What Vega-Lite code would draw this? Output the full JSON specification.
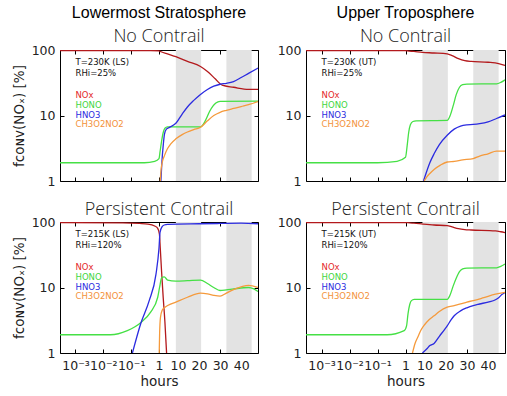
{
  "$schema": "https://vega.github.io/schema/vega-lite/v6.json",
  "padding": {"left": 11, "top": 4, "right": 4, "bottom": 4},
  "background": "white",
  "config": {
    "view": {"stroke": "#000", "strokeWidth": 1},
    "title": {"font": "Liberation Sans", "fontSize": 16, "fontWeight": "normal", "color": "#000", "anchor": "middle", "offset": -2,
              "subtitleFont": "Open Sans", "subtitleFontWeight": 300, "subtitleFontSize": 18, "subtitleColor": "#222", "subtitlePadding": 7},
    "axis": {"labelFont": "DejaVu Sans", "labelFontSize": 12.5, "labelColor": "#222", "titleFont": "DejaVu Sans", "titleFontSize": 13.5,
             "titleFontWeight": "normal", "titleColor": "#222", "grid": false, "domain": false, "tickColor": "#000", "tickSize": -4}
  },
  "datasets": {
    "series": [
      {"p":"LS_no","s":"NOx","h":0.000278,"v":98},{"p":"LS_no","s":"NOx","h":0.5,"v":98},{"p":"LS_no","s":"NOx","h":1,"v":97},{"p":"LS_no","s":"NOx","h":2,"v":94},{"p":"LS_no","s":"NOx","h":5,"v":87},{"p":"LS_no","s":"NOx","h":9,"v":79},{"p":"LS_no","s":"NOx","h":14.5,"v":67},{"p":"LS_no","s":"NOx","h":20.7,"v":56},{"p":"LS_no","s":"NOx","h":24,"v":47},{"p":"LS_no","s":"NOx","h":27.8,"v":36},{"p":"LS_no","s":"NOx","h":31,"v":29},{"p":"LS_no","s":"NOx","h":36.4,"v":27},{"p":"LS_no","s":"NOx","h":43.5,"v":25},{"p":"LS_no","s":"NOx","h":48,"v":25},
      {"p":"LS_no","s":"HONO","h":0.000278,"v":1.9},{"p":"LS_no","s":"HONO","h":0.3,"v":1.9},{"p":"LS_no","s":"HONO","h":0.7,"v":2.0},{"p":"LS_no","s":"HONO","h":1,"v":2.2},{"p":"LS_no","s":"HONO","h":1.5,"v":2.8},{"p":"LS_no","s":"HONO","h":2.2,"v":4},{"p":"LS_no","s":"HONO","h":3,"v":5.5},{"p":"LS_no","s":"HONO","h":3.8,"v":6.4},{"p":"LS_no","s":"HONO","h":5,"v":6.7},{"p":"LS_no","s":"HONO","h":20.7,"v":6.7},{"p":"LS_no","s":"HONO","h":22,"v":7.3},{"p":"LS_no","s":"HONO","h":23.5,"v":9},{"p":"LS_no","s":"HONO","h":25,"v":11.5},{"p":"LS_no","s":"HONO","h":26.5,"v":13.8},{"p":"LS_no","s":"HONO","h":28,"v":15.5},{"p":"LS_no","s":"HONO","h":30,"v":16.4},{"p":"LS_no","s":"HONO","h":48,"v":16.6},
      {"p":"LS_no","s":"HNO3","h":1.9,"v":1},{"p":"LS_no","s":"HNO3","h":2.4,"v":2},{"p":"LS_no","s":"HNO3","h":3,"v":3.5},{"p":"LS_no","s":"HNO3","h":3.6,"v":5.2},{"p":"LS_no","s":"HNO3","h":4.5,"v":6.2},{"p":"LS_no","s":"HNO3","h":6,"v":6.6},{"p":"LS_no","s":"HNO3","h":9,"v":7.6},{"p":"LS_no","s":"HNO3","h":12,"v":10.5},{"p":"LS_no","s":"HNO3","h":14.5,"v":13.5},{"p":"LS_no","s":"HNO3","h":17.5,"v":17},{"p":"LS_no","s":"HNO3","h":20.7,"v":21},{"p":"LS_no","s":"HNO3","h":24,"v":25},{"p":"LS_no","s":"HNO3","h":27,"v":28},{"p":"LS_no","s":"HNO3","h":30,"v":30},{"p":"LS_no","s":"HNO3","h":33,"v":31},{"p":"LS_no","s":"HNO3","h":36.4,"v":33},{"p":"LS_no","s":"HNO3","h":40,"v":38},{"p":"LS_no","s":"HNO3","h":43.5,"v":44},{"p":"LS_no","s":"HNO3","h":48,"v":53},
      {"p":"LS_no","s":"CH3O2NO2","h":1.6,"v":1},{"p":"LS_no","s":"CH3O2NO2","h":1.9,"v":1.4},{"p":"LS_no","s":"CH3O2NO2","h":2.5,"v":1.9},{"p":"LS_no","s":"CH3O2NO2","h":3.5,"v":2.4},{"p":"LS_no","s":"CH3O2NO2","h":5,"v":3.1},{"p":"LS_no","s":"CH3O2NO2","h":6.6,"v":3.7},{"p":"LS_no","s":"CH3O2NO2","h":9,"v":4.4},{"p":"LS_no","s":"CH3O2NO2","h":12,"v":5.1},{"p":"LS_no","s":"CH3O2NO2","h":14.5,"v":5.6},{"p":"LS_no","s":"CH3O2NO2","h":17.5,"v":6.1},{"p":"LS_no","s":"CH3O2NO2","h":20.7,"v":6.6},{"p":"LS_no","s":"CH3O2NO2","h":24,"v":8.3},{"p":"LS_no","s":"CH3O2NO2","h":27,"v":10},{"p":"LS_no","s":"CH3O2NO2","h":30,"v":11.2},{"p":"LS_no","s":"CH3O2NO2","h":33,"v":12},{"p":"LS_no","s":"CH3O2NO2","h":36.4,"v":12.8},{"p":"LS_no","s":"CH3O2NO2","h":40,"v":13.7},{"p":"LS_no","s":"CH3O2NO2","h":43.5,"v":14.6},{"p":"LS_no","s":"CH3O2NO2","h":48,"v":16.3},

      {"p":"UT_no","s":"NOx","h":0.000278,"v":98},{"p":"UT_no","s":"NOx","h":1,"v":98},{"p":"UT_no","s":"NOx","h":2,"v":97},{"p":"UT_no","s":"NOx","h":5,"v":95},{"p":"UT_no","s":"NOx","h":9,"v":92},{"p":"UT_no","s":"NOx","h":14.5,"v":90},{"p":"UT_no","s":"NOx","h":20.7,"v":87},{"p":"UT_no","s":"NOx","h":23,"v":82},{"p":"UT_no","s":"NOx","h":26,"v":74},{"p":"UT_no","s":"NOx","h":29,"v":69},{"p":"UT_no","s":"NOx","h":32,"v":67},{"p":"UT_no","s":"NOx","h":40,"v":65},{"p":"UT_no","s":"NOx","h":45,"v":62},{"p":"UT_no","s":"NOx","h":48,"v":58},
      {"p":"UT_no","s":"HONO","h":0.000278,"v":1.9},{"p":"UT_no","s":"HONO","h":0.1,"v":1.9},{"p":"UT_no","s":"HONO","h":0.5,"v":2.0},{"p":"UT_no","s":"HONO","h":1,"v":2.3},{"p":"UT_no","s":"HONO","h":1.8,"v":3.5},{"p":"UT_no","s":"HONO","h":2.5,"v":5.5},{"p":"UT_no","s":"HONO","h":3.3,"v":7.2},{"p":"UT_no","s":"HONO","h":4.5,"v":8.1},{"p":"UT_no","s":"HONO","h":6,"v":8.3},{"p":"UT_no","s":"HONO","h":20.7,"v":8.4},{"p":"UT_no","s":"HONO","h":22,"v":9.8},{"p":"UT_no","s":"HONO","h":23.5,"v":14},{"p":"UT_no","s":"HONO","h":25,"v":21},{"p":"UT_no","s":"HONO","h":26.5,"v":27},{"p":"UT_no","s":"HONO","h":28,"v":29.5},{"p":"UT_no","s":"HONO","h":30,"v":30.2},{"p":"UT_no","s":"HONO","h":44,"v":30.5},{"p":"UT_no","s":"HONO","h":46,"v":32},{"p":"UT_no","s":"HONO","h":48,"v":35},
      {"p":"UT_no","s":"HNO3","h":9.5,"v":1},{"p":"UT_no","s":"HNO3","h":11,"v":1.4},{"p":"UT_no","s":"HNO3","h":12.5,"v":1.9},{"p":"UT_no","s":"HNO3","h":14.5,"v":2.6},{"p":"UT_no","s":"HNO3","h":17,"v":3.6},{"p":"UT_no","s":"HNO3","h":20.7,"v":5.0},{"p":"UT_no","s":"HNO3","h":24,"v":6.2},{"p":"UT_no","s":"HNO3","h":27,"v":6.9},{"p":"UT_no","s":"HNO3","h":30,"v":7.2},{"p":"UT_no","s":"HNO3","h":33,"v":7.3},{"p":"UT_no","s":"HNO3","h":36,"v":7.5},{"p":"UT_no","s":"HNO3","h":40,"v":8.0},{"p":"UT_no","s":"HNO3","h":44,"v":9.0},{"p":"UT_no","s":"HNO3","h":48,"v":10.2},
      {"p":"UT_no","s":"CH3O2NO2","h":9.8,"v":1},{"p":"UT_no","s":"CH3O2NO2","h":11,"v":1.15},{"p":"UT_no","s":"CH3O2NO2","h":12.5,"v":1.3},{"p":"UT_no","s":"CH3O2NO2","h":14.5,"v":1.5},{"p":"UT_no","s":"CH3O2NO2","h":17.5,"v":1.75},{"p":"UT_no","s":"CH3O2NO2","h":20.7,"v":1.95},{"p":"UT_no","s":"CH3O2NO2","h":24,"v":2.0},{"p":"UT_no","s":"CH3O2NO2","h":28,"v":2.1},{"p":"UT_no","s":"CH3O2NO2","h":33,"v":2.2},{"p":"UT_no","s":"CH3O2NO2","h":36,"v":2.4},{"p":"UT_no","s":"CH3O2NO2","h":40,"v":2.6},{"p":"UT_no","s":"CH3O2NO2","h":44,"v":2.85},{"p":"UT_no","s":"CH3O2NO2","h":48,"v":2.85},

      {"p":"LS_pc","s":"NOx","h":0.000278,"v":98},{"p":"LS_pc","s":"NOx","h":0.05,"v":97},{"p":"LS_pc","s":"NOx","h":0.2,"v":95},{"p":"LS_pc","s":"NOx","h":0.4,"v":93},{"p":"LS_pc","s":"NOx","h":0.7,"v":87},{"p":"LS_pc","s":"NOx","h":0.9,"v":80},{"p":"LS_pc","s":"NOx","h":1.2,"v":65},{"p":"LS_pc","s":"NOx","h":1.6,"v":40},{"p":"LS_pc","s":"NOx","h":2.2,"v":18},{"p":"LS_pc","s":"NOx","h":3,"v":7},{"p":"LS_pc","s":"NOx","h":3.8,"v":3},{"p":"LS_pc","s":"NOx","h":4.6,"v":1},
      {"p":"LS_pc","s":"HONO","h":0.000278,"v":1.9},{"p":"LS_pc","s":"HONO","h":0.018,"v":1.9},{"p":"LS_pc","s":"HONO","h":0.073,"v":2.2},{"p":"LS_pc","s":"HONO","h":0.22,"v":2.9},{"p":"LS_pc","s":"HONO","h":0.5,"v":4.2},{"p":"LS_pc","s":"HONO","h":0.9,"v":7.1},{"p":"LS_pc","s":"HONO","h":1.5,"v":11},{"p":"LS_pc","s":"HONO","h":2.2,"v":14},{"p":"LS_pc","s":"HONO","h":3.5,"v":14.5},{"p":"LS_pc","s":"HONO","h":5.1,"v":13},{"p":"LS_pc","s":"HONO","h":9,"v":12.5},{"p":"LS_pc","s":"HONO","h":14.5,"v":12.7},{"p":"LS_pc","s":"HONO","h":20.7,"v":13},{"p":"LS_pc","s":"HONO","h":24,"v":11.5},{"p":"LS_pc","s":"HONO","h":27,"v":10},{"p":"LS_pc","s":"HONO","h":30,"v":9.0},{"p":"LS_pc","s":"HONO","h":33,"v":9.2},{"p":"LS_pc","s":"HONO","h":36.4,"v":9.5},{"p":"LS_pc","s":"HONO","h":43.5,"v":10},{"p":"LS_pc","s":"HONO","h":46,"v":9.5},{"p":"LS_pc","s":"HONO","h":48,"v":8.7},
      {"p":"LS_pc","s":"HNO3","h":0.111,"v":1},{"p":"LS_pc","s":"HNO3","h":0.22,"v":2.8},{"p":"LS_pc","s":"HNO3","h":0.445,"v":6.3},{"p":"LS_pc","s":"HNO3","h":0.78,"v":16},{"p":"LS_pc","s":"HNO3","h":1.0,"v":40},{"p":"LS_pc","s":"HNO3","h":1.5,"v":70},{"p":"LS_pc","s":"HNO3","h":2.5,"v":85},{"p":"LS_pc","s":"HNO3","h":3.5,"v":90},{"p":"LS_pc","s":"HNO3","h":5.1,"v":92},{"p":"LS_pc","s":"HNO3","h":20,"v":94},{"p":"LS_pc","s":"HNO3","h":30,"v":95},{"p":"LS_pc","s":"HNO3","h":40,"v":96},{"p":"LS_pc","s":"HNO3","h":48,"v":94},
      {"p":"LS_pc","s":"CH3O2NO2","h":1.1,"v":1},{"p":"LS_pc","s":"CH3O2NO2","h":1.3,"v":2},{"p":"LS_pc","s":"CH3O2NO2","h":1.7,"v":3.5},{"p":"LS_pc","s":"CH3O2NO2","h":2.5,"v":4.5},{"p":"LS_pc","s":"CH3O2NO2","h":3.5,"v":4.9},{"p":"LS_pc","s":"CH3O2NO2","h":5.1,"v":5.3},{"p":"LS_pc","s":"CH3O2NO2","h":9,"v":6},{"p":"LS_pc","s":"CH3O2NO2","h":14.5,"v":7.1},{"p":"LS_pc","s":"CH3O2NO2","h":20.7,"v":8.2},{"p":"LS_pc","s":"CH3O2NO2","h":24,"v":8.0},{"p":"LS_pc","s":"CH3O2NO2","h":27,"v":7.6},{"p":"LS_pc","s":"CH3O2NO2","h":30,"v":7.4},{"p":"LS_pc","s":"CH3O2NO2","h":33,"v":8.2},{"p":"LS_pc","s":"CH3O2NO2","h":36.4,"v":9.3},{"p":"LS_pc","s":"CH3O2NO2","h":40,"v":10.2},{"p":"LS_pc","s":"CH3O2NO2","h":43.5,"v":10.8},{"p":"LS_pc","s":"CH3O2NO2","h":48,"v":10},

      {"p":"UT_pc","s":"NOx","h":0.000278,"v":98},{"p":"UT_pc","s":"NOx","h":1,"v":98},{"p":"UT_pc","s":"NOx","h":2,"v":97.5},{"p":"UT_pc","s":"NOx","h":5,"v":96},{"p":"UT_pc","s":"NOx","h":9.3,"v":93},{"p":"UT_pc","s":"NOx","h":14.5,"v":90},{"p":"UT_pc","s":"NOx","h":20.7,"v":88},{"p":"UT_pc","s":"NOx","h":23,"v":84},{"p":"UT_pc","s":"NOx","h":26,"v":79},{"p":"UT_pc","s":"NOx","h":29,"v":76.5},{"p":"UT_pc","s":"NOx","h":32,"v":75.5},{"p":"UT_pc","s":"NOx","h":43.5,"v":73},{"p":"UT_pc","s":"NOx","h":46,"v":71},{"p":"UT_pc","s":"NOx","h":48,"v":69},
      {"p":"UT_pc","s":"HONO","h":0.000278,"v":1.9},{"p":"UT_pc","s":"HONO","h":0.22,"v":1.9},{"p":"UT_pc","s":"HONO","h":0.9,"v":2.2},{"p":"UT_pc","s":"HONO","h":1.5,"v":2.6},{"p":"UT_pc","s":"HONO","h":2.2,"v":4},{"p":"UT_pc","s":"HONO","h":3,"v":5.5},{"p":"UT_pc","s":"HONO","h":3.8,"v":6.3},{"p":"UT_pc","s":"HONO","h":5.1,"v":6.6},{"p":"UT_pc","s":"HONO","h":20.7,"v":6.6},{"p":"UT_pc","s":"HONO","h":22,"v":7.6},{"p":"UT_pc","s":"HONO","h":23.5,"v":10.5},{"p":"UT_pc","s":"HONO","h":25,"v":14},{"p":"UT_pc","s":"HONO","h":26.5,"v":17.5},{"p":"UT_pc","s":"HONO","h":28,"v":19.2},{"p":"UT_pc","s":"HONO","h":30,"v":19.8},{"p":"UT_pc","s":"HONO","h":44,"v":20},{"p":"UT_pc","s":"HONO","h":46,"v":21},{"p":"UT_pc","s":"HONO","h":48,"v":22.8},
      {"p":"UT_pc","s":"HNO3","h":9,"v":1},{"p":"UT_pc","s":"HNO3","h":11,"v":1.15},{"p":"UT_pc","s":"HNO3","h":12.5,"v":1.3},{"p":"UT_pc","s":"HNO3","h":14.5,"v":1.4},{"p":"UT_pc","s":"HNO3","h":17,"v":1.8},{"p":"UT_pc","s":"HNO3","h":19.5,"v":2.3},{"p":"UT_pc","s":"HNO3","h":20.7,"v":2.6},{"p":"UT_pc","s":"HNO3","h":22.5,"v":3.2},{"p":"UT_pc","s":"HNO3","h":24,"v":3.7},{"p":"UT_pc","s":"HNO3","h":27,"v":4.4},{"p":"UT_pc","s":"HNO3","h":30,"v":4.9},{"p":"UT_pc","s":"HNO3","h":33,"v":5.3},{"p":"UT_pc","s":"HNO3","h":36,"v":5.6},{"p":"UT_pc","s":"HNO3","h":40,"v":6.0},{"p":"UT_pc","s":"HNO3","h":43.5,"v":6.5},{"p":"UT_pc","s":"HNO3","h":45,"v":7.0},{"p":"UT_pc","s":"HNO3","h":46.5,"v":7.8},{"p":"UT_pc","s":"HNO3","h":48,"v":8.4},
      {"p":"UT_pc","s":"CH3O2NO2","h":4.3,"v":1},{"p":"UT_pc","s":"CH3O2NO2","h":5.5,"v":1.4},{"p":"UT_pc","s":"CH3O2NO2","h":7,"v":1.8},{"p":"UT_pc","s":"CH3O2NO2","h":8.2,"v":2.2},{"p":"UT_pc","s":"CH3O2NO2","h":10,"v":2.7},{"p":"UT_pc","s":"CH3O2NO2","h":12,"v":3.2},{"p":"UT_pc","s":"CH3O2NO2","h":14.5,"v":3.7},{"p":"UT_pc","s":"CH3O2NO2","h":17,"v":4.3},{"p":"UT_pc","s":"CH3O2NO2","h":20.7,"v":5.0},{"p":"UT_pc","s":"CH3O2NO2","h":24,"v":5.3},{"p":"UT_pc","s":"CH3O2NO2","h":27,"v":5.6},{"p":"UT_pc","s":"CH3O2NO2","h":30,"v":6.0},{"p":"UT_pc","s":"CH3O2NO2","h":33,"v":6.3},{"p":"UT_pc","s":"CH3O2NO2","h":38,"v":7.0},{"p":"UT_pc","s":"CH3O2NO2","h":43.5,"v":7.9},{"p":"UT_pc","s":"CH3O2NO2","h":48,"v":8.4}
    ],
    "nights": [{"h": 9, "he": 21}, {"h": 33, "he": 45}],
    "keys": [
      {"s": "NOx", "h": 0.001, "v": 20.6},
      {"s": "HONO", "h": 0.001, "v": 14.5},
      {"s": "HNO3", "h": 0.001, "v": 10.2},
      {"s": "CH3O2NO2", "h": 0.001, "v": 7.3}
    ],
    "notes": [
      {"p": "LS_no", "t": "T=230K (LS)", "h": 0.001, "v": 65.6}, {"p": "LS_no", "t": "RHi=25%", "h": 0.001, "v": 44.5},
      {"p": "UT_no", "t": "T=230K (UT)", "h": 0.001, "v": 65.6}, {"p": "UT_no", "t": "RHi=25%", "h": 0.001, "v": 44.5},
      {"p": "LS_pc", "t": "T=215K (LS)", "h": 0.001, "v": 65.6}, {"p": "LS_pc", "t": "RHi=120%", "h": 0.001, "v": 44.5},
      {"p": "UT_pc", "t": "T=215K (UT)", "h": 0.001, "v": 65.6}, {"p": "UT_pc", "t": "RHi=120%", "h": 0.001, "v": 44.5}
    ]
  },
  "vconcat": [
    {
      "hconcat": [
        {
          "width": 198, "height": 131,
          "title": {"text": "Lowermost Stratosphere", "subtitle": "No Contrail"},
          "resolve": {"axis": {"x": "independent", "y": "independent"}},
          "layer": [
            {"data": {"name": "nights"},
             "transform": [{"calculate": "(datum.h - 1) / 47 + 1", "as": "u"}, {"calculate": "(datum.he - 1) / 47 + 1", "as": "ue"}],
             "mark": {"type": "rect", "color": "#e3e3e3"},
             "encoding": {"x": {"field": "u", "type": "quantitative", "scale": {"domain": [0, 2], "nice": false, "zero": false},
                                "axis": {"values": [0.15643, 0.43762, 0.71881, 1, 1.19149, 1.40426, 1.61702, 1.82979], "labels": false, "title": null}},
                          "x2": {"field": "ue"},
                          "y": {"datum": 1, "type": "quantitative", "scale": {"type": "log", "domain": [1, 100], "nice": false},
                                "axis": {"values": [1, 10, 100], "format": "d", "labelPadding": 9, "title": "fᴄᴏɴᴠ(NOₓ)  [%]", "titlePadding": 5}},
                          "y2": {"datum": 100}}},
            {"data": {"name": "series"},
             "transform": [{"filter": "datum.p === 'LS_no'"}, {"calculate": "datum.h < 1 ? (log(datum.h) / LN10 + 3.5563) / 3.5563 : 1 + (datum.h - 1) / 47", "as": "u"}],
             "mark": {"type": "line", "strokeWidth": 1.3, "interpolate": "monotone", "clip": true},
             "encoding": {"x": {"field": "u", "type": "quantitative", "axis": {"orient": "top", "values": [0.15643, 0.43762, 0.71881, 1, 1.19149, 1.40426, 1.61702, 1.82979], "labels": false, "title": null}},
                          "y": {"field": "v", "type": "quantitative", "axis": {"orient": "right", "values": [1, 10, 100], "labels": false, "title": null}},
                          "stroke": {"field": "s", "type": "nominal", "legend": null,
                                     "scale": {"domain": ["NOx", "HONO", "HNO3", "CH3O2NO2"], "range": ["#b3191c", "#45e045", "#2b2be0", "#f59a3c"]}}}},
            {"data": {"name": "keys"},
             "transform": [{"calculate": "(log(datum.h) / LN10 + 3.5563) / 3.5563", "as": "u"}],
             "mark": {"type": "text", "align": "left", "baseline": "middle", "font": "DejaVu Sans", "fontSize": 8.5},
             "encoding": {"x": {"field": "u", "type": "quantitative", "axis": null}, "y": {"field": "v", "type": "quantitative", "axis": null}, "text": {"field": "s"},
                          "fill": {"field": "s", "type": "nominal", "legend": null,
                                   "scale": {"domain": ["NOx", "HONO", "HNO3", "CH3O2NO2"], "range": ["#e42a2a", "#3fd63f", "#2b2be0", "#f3923a"]}}}},
            {"data": {"name": "notes"},
             "transform": [{"filter": "datum.p === 'LS_no'"}, {"calculate": "(log(datum.h) / LN10 + 3.5563) / 3.5563", "as": "u"}],
             "mark": {"type": "text", "align": "left", "baseline": "middle", "font": "DejaVu Sans", "fontSize": 8.5, "color": "#111"},
             "encoding": {"x": {"field": "u", "type": "quantitative", "axis": null}, "y": {"field": "v", "type": "quantitative", "axis": null}, "text": {"field": "t"}}}
          ]
        },
        {
          "width": 199, "height": 131,
          "title": {"text": "Upper Troposphere", "subtitle": "No Contrail"},
          "resolve": {"axis": {"x": "independent", "y": "independent"}},
          "layer": [
            {"data": {"name": "nights"},
             "transform": [{"calculate": "(datum.h - 1) / 47 + 1", "as": "u"}, {"calculate": "(datum.he - 1) / 47 + 1", "as": "ue"}],
             "mark": {"type": "rect", "color": "#e3e3e3"},
             "encoding": {"x": {"field": "u", "type": "quantitative", "scale": {"domain": [0, 2], "nice": false, "zero": false},
                                "axis": {"values": [0.15643, 0.43762, 0.71881, 1, 1.19149, 1.40426, 1.61702, 1.82979], "labels": false, "title": null}},
                          "x2": {"field": "ue"},
                          "y": {"datum": 1, "type": "quantitative", "scale": {"type": "log", "domain": [1, 100], "nice": false},
                                "axis": {"values": [1, 10, 100], "format": "d", "labelPadding": 9, "title": null}},
                          "y2": {"datum": 100}}},
            {"data": {"name": "series"},
             "transform": [{"filter": "datum.p === 'UT_no'"}, {"calculate": "datum.h < 1 ? (log(datum.h) / LN10 + 3.5563) / 3.5563 : 1 + (datum.h - 1) / 47", "as": "u"}],
             "mark": {"type": "line", "strokeWidth": 1.3, "interpolate": "monotone", "clip": true},
             "encoding": {"x": {"field": "u", "type": "quantitative", "axis": {"orient": "top", "values": [0.15643, 0.43762, 0.71881, 1, 1.19149, 1.40426, 1.61702, 1.82979], "labels": false, "title": null}},
                          "y": {"field": "v", "type": "quantitative", "axis": {"orient": "right", "values": [1, 10, 100], "labels": false, "title": null}},
                          "stroke": {"field": "s", "type": "nominal", "legend": null,
                                     "scale": {"domain": ["NOx", "HONO", "HNO3", "CH3O2NO2"], "range": ["#b3191c", "#45e045", "#2b2be0", "#f59a3c"]}}}},
            {"data": {"name": "keys"},
             "transform": [{"calculate": "(log(datum.h) / LN10 + 3.5563) / 3.5563", "as": "u"}],
             "mark": {"type": "text", "align": "left", "baseline": "middle", "font": "DejaVu Sans", "fontSize": 8.5},
             "encoding": {"x": {"field": "u", "type": "quantitative", "axis": null}, "y": {"field": "v", "type": "quantitative", "axis": null}, "text": {"field": "s"},
                          "fill": {"field": "s", "type": "nominal", "legend": null,
                                   "scale": {"domain": ["NOx", "HONO", "HNO3", "CH3O2NO2"], "range": ["#e42a2a", "#3fd63f", "#2b2be0", "#f3923a"]}}}},
            {"data": {"name": "notes"},
             "transform": [{"filter": "datum.p === 'UT_no'"}, {"calculate": "(log(datum.h) / LN10 + 3.5563) / 3.5563", "as": "u"}],
             "mark": {"type": "text", "align": "left", "baseline": "middle", "font": "DejaVu Sans", "fontSize": 8.5, "color": "#111"},
             "encoding": {"x": {"field": "u", "type": "quantitative", "axis": null}, "y": {"field": "v", "type": "quantitative", "axis": null}, "text": {"field": "t"}}}
          ]
        }
      ],
      "spacing": 17
    },
    {
      "hconcat": [
        {
          "width": 198, "height": 131,
          "title": {"text": "Persistent Contrail", "font": "Open Sans", "fontWeight": 300, "fontSize": 18, "color": "#222", "offset": -3},
          "resolve": {"axis": {"x": "independent", "y": "independent"}},
          "layer": [
            {"data": {"name": "nights"},
             "transform": [{"calculate": "(datum.h - 1) / 47 + 1", "as": "u"}, {"calculate": "(datum.he - 1) / 47 + 1", "as": "ue"}],
             "mark": {"type": "rect", "color": "#e3e3e3"},
             "encoding": {"x": {"field": "u", "type": "quantitative", "scale": {"domain": [0, 2], "nice": false, "zero": false},
                                "axis": {"values": [0.15643, 0.43762, 0.71881, 1, 1.19149, 1.40426, 1.61702, 1.82979], "labelPadding": 10, "labelOverlap": false, "labelBound": false,
                                         "labelExpr": "datum.value < 0.3 ? '10⁻³' : datum.value < 0.6 ? '10⁻²' : datum.value < 0.9 ? '10⁻¹' : format((datum.value - 1) * 47 + 1, '.0f')",
                                         "title": "hours", "titlePadding": 3}},
                          "x2": {"field": "ue"},
                          "y": {"datum": 1, "type": "quantitative", "scale": {"type": "log", "domain": [1, 100], "nice": false},
                                "axis": {"values": [1, 10, 100], "format": "d", "labelPadding": 9, "title": "fᴄᴏɴᴠ(NOₓ)  [%]", "titlePadding": 5}},
                          "y2": {"datum": 100}}},
            {"data": {"name": "series"},
             "transform": [{"filter": "datum.p === 'LS_pc'"}, {"calculate": "datum.h < 1 ? (log(datum.h) / LN10 + 3.5563) / 3.5563 : 1 + (datum.h - 1) / 47", "as": "u"}],
             "mark": {"type": "line", "strokeWidth": 1.3, "interpolate": "monotone", "clip": true},
             "encoding": {"x": {"field": "u", "type": "quantitative", "axis": {"orient": "top", "values": [0.15643, 0.43762, 0.71881, 1, 1.19149, 1.40426, 1.61702, 1.82979], "labels": false, "title": null}},
                          "y": {"field": "v", "type": "quantitative", "axis": {"orient": "right", "values": [1, 10, 100], "labels": false, "title": null}},
                          "stroke": {"field": "s", "type": "nominal", "legend": null,
                                     "scale": {"domain": ["NOx", "HONO", "HNO3", "CH3O2NO2"], "range": ["#b3191c", "#45e045", "#2b2be0", "#f59a3c"]}}}},
            {"data": {"name": "keys"},
             "transform": [{"calculate": "(log(datum.h) / LN10 + 3.5563) / 3.5563", "as": "u"}],
             "mark": {"type": "text", "align": "left", "baseline": "middle", "font": "DejaVu Sans", "fontSize": 8.5},
             "encoding": {"x": {"field": "u", "type": "quantitative", "axis": null}, "y": {"field": "v", "type": "quantitative", "axis": null}, "text": {"field": "s"},
                          "fill": {"field": "s", "type": "nominal", "legend": null,
                                   "scale": {"domain": ["NOx", "HONO", "HNO3", "CH3O2NO2"], "range": ["#e42a2a", "#3fd63f", "#2b2be0", "#f3923a"]}}}},
            {"data": {"name": "notes"},
             "transform": [{"filter": "datum.p === 'LS_pc'"}, {"calculate": "(log(datum.h) / LN10 + 3.5563) / 3.5563", "as": "u"}],
             "mark": {"type": "text", "align": "left", "baseline": "middle", "font": "DejaVu Sans", "fontSize": 8.5, "color": "#111"},
             "encoding": {"x": {"field": "u", "type": "quantitative", "axis": null}, "y": {"field": "v", "type": "quantitative", "axis": null}, "text": {"field": "t"}}}
          ]
        },
        {
          "width": 199, "height": 131,
          "title": {"text": "Persistent Contrail", "font": "Open Sans", "fontWeight": 300, "fontSize": 18, "color": "#222", "offset": -3},
          "resolve": {"axis": {"x": "independent", "y": "independent"}},
          "layer": [
            {"data": {"name": "nights"},
             "transform": [{"calculate": "(datum.h - 1) / 47 + 1", "as": "u"}, {"calculate": "(datum.he - 1) / 47 + 1", "as": "ue"}],
             "mark": {"type": "rect", "color": "#e3e3e3"},
             "encoding": {"x": {"field": "u", "type": "quantitative", "scale": {"domain": [0, 2], "nice": false, "zero": false},
                                "axis": {"values": [0.15643, 0.43762, 0.71881, 1, 1.19149, 1.40426, 1.61702, 1.82979], "labelPadding": 10, "labelOverlap": false, "labelBound": false,
                                         "labelExpr": "datum.value < 0.3 ? '10⁻³' : datum.value < 0.6 ? '10⁻²' : datum.value < 0.9 ? '10⁻¹' : format((datum.value - 1) * 47 + 1, '.0f')",
                                         "title": "hours", "titlePadding": 3}},
                          "x2": {"field": "ue"},
                          "y": {"datum": 1, "type": "quantitative", "scale": {"type": "log", "domain": [1, 100], "nice": false},
                                "axis": {"values": [1, 10, 100], "format": "d", "labelPadding": 9, "title": null}},
                          "y2": {"datum": 100}}},
            {"data": {"name": "series"},
             "transform": [{"filter": "datum.p === 'UT_pc'"}, {"calculate": "datum.h < 1 ? (log(datum.h) / LN10 + 3.5563) / 3.5563 : 1 + (datum.h - 1) / 47", "as": "u"}],
             "mark": {"type": "line", "strokeWidth": 1.3, "interpolate": "monotone", "clip": true},
             "encoding": {"x": {"field": "u", "type": "quantitative", "axis": {"orient": "top", "values": [0.15643, 0.43762, 0.71881, 1, 1.19149, 1.40426, 1.61702, 1.82979], "labels": false, "title": null}},
                          "y": {"field": "v", "type": "quantitative", "axis": {"orient": "right", "values": [1, 10, 100], "labels": false, "title": null}},
                          "stroke": {"field": "s", "type": "nominal", "legend": null,
                                     "scale": {"domain": ["NOx", "HONO", "HNO3", "CH3O2NO2"], "range": ["#b3191c", "#45e045", "#2b2be0", "#f59a3c"]}}}},
            {"data": {"name": "keys"},
             "transform": [{"calculate": "(log(datum.h) / LN10 + 3.5563) / 3.5563", "as": "u"}],
             "mark": {"type": "text", "align": "left", "baseline": "middle", "font": "DejaVu Sans", "fontSize": 8.5},
             "encoding": {"x": {"field": "u", "type": "quantitative", "axis": null}, "y": {"field": "v", "type": "quantitative", "axis": null}, "text": {"field": "s"},
                          "fill": {"field": "s", "type": "nominal", "legend": null,
                                   "scale": {"domain": ["NOx", "HONO", "HNO3", "CH3O2NO2"], "range": ["#e42a2a", "#3fd63f", "#2b2be0", "#f3923a"]}}}},
            {"data": {"name": "notes"},
             "transform": [{"filter": "datum.p === 'UT_pc'"}, {"calculate": "(log(datum.h) / LN10 + 3.5563) / 3.5563", "as": "u"}],
             "mark": {"type": "text", "align": "left", "baseline": "middle", "font": "DejaVu Sans", "fontSize": 8.5, "color": "#111"},
             "encoding": {"x": {"field": "u", "type": "quantitative", "axis": null}, "y": {"field": "v", "type": "quantitative", "axis": null}, "text": {"field": "t"}}}
          ]
        }
      ],
      "spacing": 17
    }
  ],
  "spacing": 12
}
